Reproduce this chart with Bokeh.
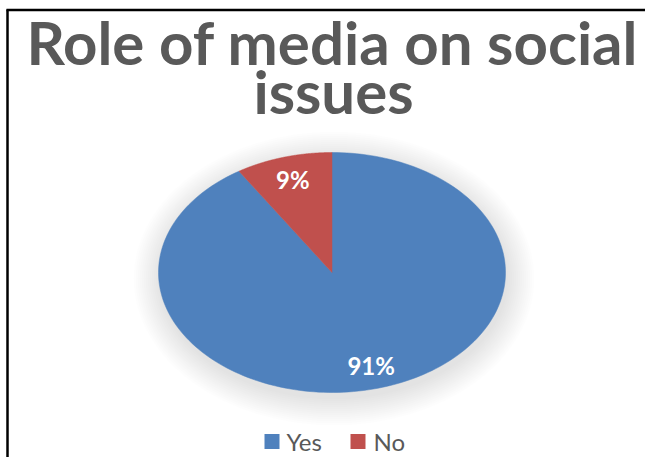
import numpy as np
from bokeh.plotting import figure
from bokeh.models import Range1d
from bokeh.core.properties import value
from bokeh.embed import file_html
from bokeh.resources import INLINE

# ---- data ----
categories = ["Yes", "No"]
percentages = [91, 9]
colors = ["#4F81BD", "#C0504D"]
title_lines = ["Role of media on social", "issues"]

W, H = 645, 457
p = figure(width=W, height=H, output_backend="svg", toolbar_location=None,
           x_range=Range1d(0, W), y_range=Range1d(H, 0), min_border=0,
           x_axis_location=None, y_axis_location=None)
p.grid.visible = False
p.outline_line_color = None
p.background_fill_color = "white"
p.border_fill_color = "white"

# frame lines (left and top)
p.segment(x0=[7, 6], y0=[9, 9.5], x1=[7, 645], y1=[457, 9.5], line_color="black", line_width=2.5)

# pie geometry (elliptical, as in the reference)
cx, cy, rx, ry = 331.5, 272.0, 173.5, 120.0

# soft shadow
for i in range(14):
    g = 1 + i * 2.0
    p.ellipse(x=cx + 2, y=cy + 6, width=2 * (rx + g), height=2 * (ry + g),
              fill_color="black", fill_alpha=0.008, line_color=None)

total = float(sum(percentages))
start = 0.0
for cat, val, col in zip(categories, percentages, colors):
    frac = val / total
    t = np.linspace(start, start + frac * 2 * np.pi, 200)
    xs = np.concatenate([[cx], cx + rx * np.sin(t), [cx]])
    ys = np.concatenate([[cy], cy - ry * np.cos(t), [cy]])
    p.patch(xs, ys, fill_color=col, line_color=col, line_width=0.5)
    mid = start + frac * np.pi
    r = 0.81
    p.text(x=[cx + r * rx * np.sin(mid)], y=[cy - r * ry * np.cos(mid)], text=[f"{val}%"],
           text_color="white", text_font=value("Lato"), text_font_style="bold",
           text_font_size="24px", text_align="center", text_baseline="middle")
    start += frac * 2 * np.pi

# title
p.text(x=[332, 333], y=[41, 90], text=title_lines, text_color="#595959",
       text_font=value("Lato"), text_font_style="bold", text_font_size="60px",
       text_align="center", text_baseline="middle")

# legend
leg_sq_x = [271.5, 357.5]
leg_txt_x = [286, 373]
p.scatter(x=leg_sq_x, y=[441, 441], marker="square", size=15,
          fill_color=colors, line_color=None)
p.text(x=leg_txt_x, y=[441, 441], text=categories, text_color="#595959",
       text_font=value("Lato"), text_font_size="24px",
       text_align="left", text_baseline="middle")

open("out.html", "w").write(file_html(p, INLINE))
